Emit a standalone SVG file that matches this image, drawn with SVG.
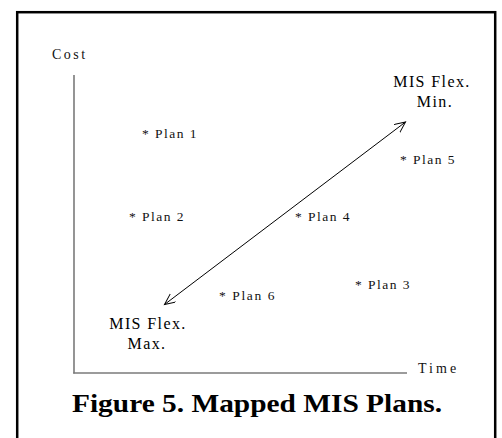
<svg xmlns="http://www.w3.org/2000/svg" width="502" height="438" viewBox="0 0 502 438">
<style>
.plan{font-family:"Liberation Serif",serif;font-size:13.5px;letter-spacing:1.5px;fill:#111}
.ax{font-family:"Liberation Serif",serif;font-size:14px;letter-spacing:1.8px;fill:#111}
.mis{font-family:"Liberation Serif",serif;font-size:16px;letter-spacing:1.4px;fill:#000;text-anchor:middle}
.axis{stroke:#7a7a7a;stroke-width:1.6;fill:none}
</style>
<defs>
<marker id="open" markerUnits="userSpaceOnUse" markerWidth="14" markerHeight="12" refX="11" refY="5" orient="auto-start-reverse" viewBox="0 0 14 12">
<path d="M0,0 L11,5 L0,10" fill="none" stroke="#000" stroke-width="1"/>
</marker>
</defs>
<rect x="17.2" y="12.2" width="478" height="440" fill="#fff" stroke="#000" stroke-width="2.5"/>
<g id="axes">
<line class="axis" x1="74" y1="75" x2="74" y2="373.5"/>
<line class="axis" x1="73.2" y1="373" x2="407" y2="373"/>
<text class="ax" x="52" y="59" textLength="35">Cost</text>
<text class="ax" x="418" y="373" textLength="40">Time</text>
</g>
<g id="connectors">
<line x1="164.5" y1="304.5" x2="405.5" y2="122" stroke="#000" stroke-width="1" marker-start="url(#open)" marker-end="url(#open)"/>
</g>
<g id="mis-min"><text class="mis" x="432" y="87">MIS Flex.</text><text class="mis" x="435" y="107">Min.</text></g>
<g id="mis-max"><text class="mis" x="148" y="328.5">MIS Flex.</text><text class="mis" x="147" y="348.5">Max.</text></g>
<g id="plan1"><text class="plan" x="142" y="138" textLength="56">* Plan 1</text></g>
<g id="plan5"><text class="plan" x="400" y="164" textLength="56">* Plan 5</text></g>
<g id="plan2"><text class="plan" x="129" y="221" textLength="56">* Plan 2</text></g>
<g id="plan4"><text class="plan" x="295" y="221" textLength="56">* Plan 4</text></g>
<g id="plan3"><text class="plan" x="355" y="289" textLength="56">* Plan 3</text></g>
<g id="plan6"><text class="plan" x="219" y="300" textLength="57">* Plan 6</text></g>
<g id="caption"><text x="72" y="412" font-family="'Liberation Serif',serif" font-size="25" font-weight="bold" textLength="370" lengthAdjust="spacingAndGlyphs" fill="#000">Figure 5. Mapped MIS Plans.</text></g>
</svg>
